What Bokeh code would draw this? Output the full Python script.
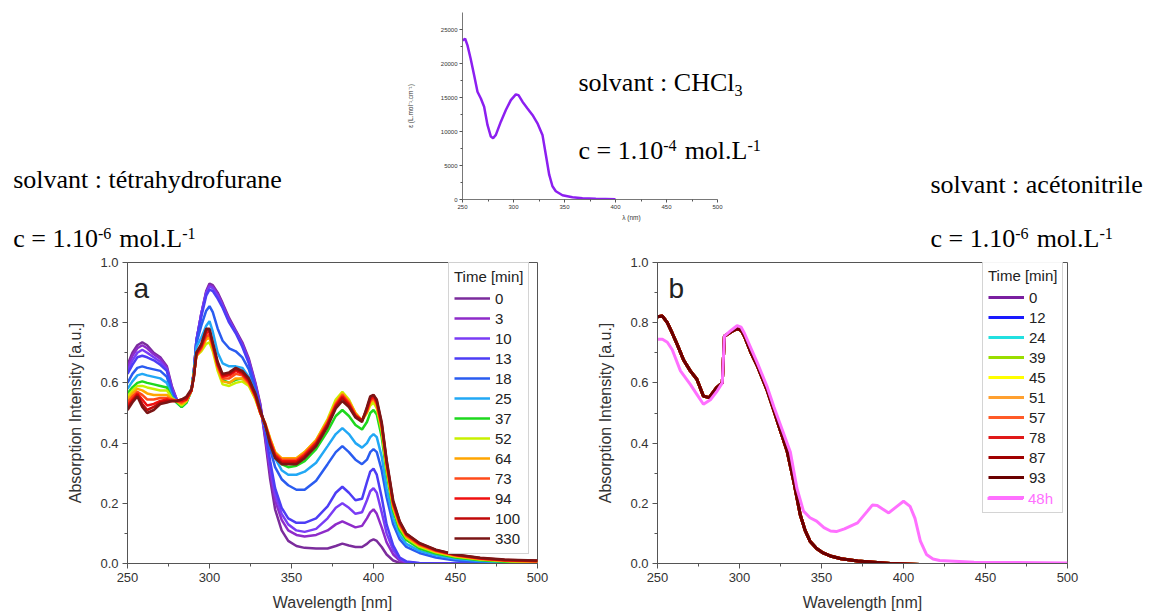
from bokeh.plotting import figure
from bokeh.models import Label, Legend, LegendItem, FixedTicker, PrintfTickFormatter, Range1d
from bokeh.layouts import column, row
from bokeh.embed import file_html
from bokeh.resources import INLINE

# ---------------- data ----------------
# inset: molar absorptivity in CHCl3
WL_CHCL3 = [250, 252.6, 254.9, 258, 261.4, 264.7, 268, 271.2, 274.5, 277.8, 280, 282.7, 287.6, 292.5,
            297.4, 302.3, 304.9, 308.8, 313.7, 318.6, 323.5, 328.4, 331.7, 335, 338.2, 341.5, 348,
            357.8, 367.6, 380.7, 400]
EPS_CHCL3 = [23390, 23640, 22660, 20710, 18270, 15840, 14860, 13650, 10960, 9260, 9015, 9500, 11450,
             13160, 14620, 15450, 15350, 14380, 13400, 12430, 11210, 9500, 6580, 3650, 1950, 1220, 630,
             340, 195, 100, 50]

# panel a: THF, time series
WL_A = [250, 253, 256, 259, 262, 266, 270, 274, 277, 280,
        283, 286, 289, 290.5, 292, 295, 298, 300, 302, 305,
        308, 312, 316, 320, 324, 328, 331, 334, 337, 340,
        344, 348, 353, 358, 365, 372, 377, 381, 385, 389,
        393, 396, 398, 400, 402, 405, 408, 412, 416, 420,
        428, 438, 450, 465, 480, 500]
TIMES_A = ["0", "3", "10", "13", "18", "25", "37", "52", "64", "73", "94", "100", "330"]
COLORS_A = ["#7b2c9c", "#8e2bc9", "#7a3cf5", "#4d3df5", "#2a5cf0", "#22a8f5", "#1ed81e",
            "#c8f000", "#ffa500", "#ff4a1a", "#f01010", "#c00808", "#7a1515"]
A_T0 = [0.66, 0.70, 0.725, 0.735, 0.725, 0.70, 0.685, 0.655, 0.59, 0.545,
        0.535, 0.55, 0.575, 0.64, 0.74, 0.83, 0.905, 0.93, 0.925, 0.90,
        0.865, 0.815, 0.775, 0.735, 0.68, 0.60, 0.53, 0.41, 0.28, 0.18,
        0.11, 0.075, 0.058, 0.052, 0.05, 0.05, 0.058, 0.066, 0.06, 0.055,
        0.055, 0.065, 0.075, 0.08, 0.075, 0.055, 0.03, 0.01, 0.002, 0.0,
        0, 0, 0, 0, 0, 0]
A_T3 = [0.65, 0.69, 0.715, 0.725, 0.715, 0.695, 0.68, 0.65, 0.585, 0.545,
        0.535, 0.55, 0.575, 0.64, 0.74, 0.83, 0.90, 0.925, 0.92, 0.895,
        0.86, 0.81, 0.77, 0.73, 0.675, 0.595, 0.525, 0.42, 0.30, 0.21,
        0.145, 0.11, 0.095, 0.09, 0.095, 0.11, 0.13, 0.14, 0.13, 0.12,
        0.125, 0.15, 0.17, 0.18, 0.165, 0.12, 0.07, 0.03, 0.01, 0.003,
        0, 0, 0, 0, 0, 0]
A_T10 = [0.64, 0.675, 0.70, 0.71, 0.70, 0.685, 0.67, 0.645, 0.58, 0.545,
         0.535, 0.55, 0.575, 0.64, 0.74, 0.83, 0.90, 0.92, 0.915, 0.89,
         0.855, 0.805, 0.77, 0.725, 0.67, 0.59, 0.52, 0.43, 0.32, 0.23,
         0.165, 0.13, 0.11, 0.105, 0.115, 0.15, 0.185, 0.20, 0.185, 0.165,
         0.17, 0.21, 0.24, 0.25, 0.235, 0.17, 0.10, 0.045, 0.015, 0.005,
         0, 0, 0, 0, 0, 0]
A_T13 = [0.63, 0.66, 0.685, 0.69, 0.685, 0.675, 0.66, 0.64, 0.575, 0.54,
         0.53, 0.545, 0.575, 0.64, 0.74, 0.82, 0.89, 0.91, 0.905, 0.88,
         0.85, 0.80, 0.765, 0.72, 0.665, 0.585, 0.515, 0.44, 0.34, 0.25,
         0.185, 0.15, 0.135, 0.135, 0.15, 0.19, 0.235, 0.255, 0.235, 0.21,
         0.215, 0.27, 0.305, 0.315, 0.295, 0.22, 0.13, 0.06, 0.02, 0.007,
         0.002, 0, 0, 0, 0, 0]
A_T18 = [0.60, 0.63, 0.65, 0.655, 0.65, 0.645, 0.64, 0.62, 0.565, 0.535,
         0.525, 0.54, 0.575, 0.64, 0.73, 0.79, 0.84, 0.855, 0.835, 0.78,
         0.74, 0.715, 0.705, 0.685, 0.645, 0.575, 0.51, 0.45, 0.38, 0.32,
         0.28, 0.26, 0.245, 0.245, 0.275, 0.33, 0.37, 0.39, 0.37, 0.345,
         0.33, 0.345, 0.37, 0.38, 0.37, 0.31, 0.22, 0.13, 0.08, 0.055,
         0.035, 0.02, 0.01, 0.005, 0.002, 0.0]
A_T25 = [0.58, 0.605, 0.625, 0.63, 0.625, 0.62, 0.615, 0.60, 0.555, 0.535,
         0.52, 0.535, 0.575, 0.64, 0.72, 0.75, 0.79, 0.805, 0.77, 0.70,
         0.665, 0.655, 0.655, 0.65, 0.62, 0.565, 0.505, 0.455, 0.40, 0.35,
         0.31, 0.295, 0.295, 0.305, 0.335, 0.39, 0.43, 0.45, 0.43, 0.40,
         0.385, 0.40, 0.42, 0.43, 0.42, 0.355, 0.25, 0.15, 0.095, 0.065,
         0.042, 0.027, 0.016, 0.008, 0.004, 0.002]
A_T37 = [0.565, 0.585, 0.60, 0.605, 0.60, 0.595, 0.59, 0.585, 0.55, 0.535,
         0.52, 0.535, 0.575, 0.635, 0.70, 0.72, 0.75, 0.755, 0.72, 0.655,
         0.61, 0.60, 0.61, 0.615, 0.595, 0.55, 0.50, 0.46, 0.41, 0.365,
         0.33, 0.32, 0.325, 0.34, 0.38, 0.44, 0.49, 0.51, 0.49, 0.46,
         0.445, 0.47, 0.50, 0.51, 0.495, 0.42, 0.30, 0.175, 0.11, 0.078,
         0.05, 0.033, 0.02, 0.011, 0.006, 0.003]
A_T52 = [0.555, 0.575, 0.59, 0.59, 0.585, 0.58, 0.575, 0.575, 0.55, 0.54,
         0.525, 0.54, 0.575, 0.63, 0.69, 0.705, 0.73, 0.735, 0.705, 0.64,
         0.595, 0.59, 0.60, 0.605, 0.59, 0.545, 0.50, 0.465, 0.415, 0.37,
         0.345, 0.345, 0.35, 0.37, 0.41, 0.48, 0.545, 0.57, 0.545, 0.50,
         0.475, 0.50, 0.525, 0.535, 0.515, 0.44, 0.315, 0.185, 0.12, 0.085,
         0.056, 0.037, 0.023, 0.013, 0.008, 0.005]
A_T64 = [0.545, 0.565, 0.58, 0.575, 0.565, 0.56, 0.56, 0.56, 0.545, 0.54,
         0.53, 0.54, 0.575, 0.625, 0.69, 0.71, 0.745, 0.75, 0.715, 0.65,
         0.605, 0.60, 0.615, 0.615, 0.595, 0.55, 0.50, 0.465, 0.415, 0.37,
         0.35, 0.35, 0.35, 0.37, 0.41, 0.475, 0.535, 0.565, 0.54, 0.50,
         0.475, 0.505, 0.535, 0.545, 0.525, 0.45, 0.325, 0.19, 0.125, 0.09,
         0.06, 0.04, 0.025, 0.015, 0.009, 0.006]
A_T73 = [0.535, 0.555, 0.57, 0.56, 0.545, 0.545, 0.55, 0.55, 0.545, 0.54,
         0.535, 0.545, 0.575, 0.625, 0.69, 0.715, 0.755, 0.76, 0.72, 0.655,
         0.615, 0.615, 0.63, 0.625, 0.60, 0.555, 0.50, 0.465, 0.41, 0.365,
         0.345, 0.345, 0.345, 0.365, 0.405, 0.47, 0.53, 0.56, 0.535, 0.495,
         0.475, 0.505, 0.54, 0.55, 0.53, 0.455, 0.33, 0.195, 0.13, 0.093,
         0.063, 0.042, 0.027, 0.016, 0.01, 0.007]
A_T94 = [0.525, 0.545, 0.565, 0.545, 0.525, 0.53, 0.54, 0.545, 0.54, 0.54,
         0.54, 0.545, 0.575, 0.625, 0.695, 0.72, 0.765, 0.77, 0.725, 0.66,
         0.62, 0.625, 0.64, 0.63, 0.605, 0.555, 0.50, 0.46, 0.405, 0.36,
         0.34, 0.34, 0.34, 0.36, 0.40, 0.465, 0.525, 0.555, 0.53, 0.49,
         0.475, 0.51, 0.545, 0.555, 0.535, 0.46, 0.335, 0.20, 0.135, 0.096,
         0.065, 0.044, 0.028, 0.017, 0.011, 0.008]
A_T100 = [0.515, 0.54, 0.56, 0.53, 0.51, 0.52, 0.535, 0.54, 0.54, 0.54,
          0.545, 0.55, 0.575, 0.62, 0.70, 0.725, 0.775, 0.775, 0.73, 0.665,
          0.625, 0.63, 0.645, 0.635, 0.61, 0.56, 0.505, 0.46, 0.40, 0.355,
          0.335, 0.335, 0.335, 0.355, 0.395, 0.46, 0.52, 0.55, 0.525, 0.49,
          0.475, 0.515, 0.55, 0.56, 0.54, 0.465, 0.34, 0.205, 0.138, 0.098,
          0.067, 0.045, 0.029, 0.018, 0.012, 0.009]
A_T330 = [0.51, 0.535, 0.555, 0.52, 0.50, 0.51, 0.53, 0.535, 0.54, 0.54,
          0.545, 0.555, 0.58, 0.62, 0.70, 0.73, 0.78, 0.78, 0.735, 0.67,
          0.63, 0.635, 0.65, 0.64, 0.615, 0.565, 0.51, 0.46, 0.395, 0.35,
          0.33, 0.33, 0.33, 0.35, 0.39, 0.455, 0.515, 0.54, 0.52, 0.485,
          0.47, 0.52, 0.555, 0.56, 0.545, 0.47, 0.345, 0.21, 0.14, 0.10,
          0.068, 0.046, 0.03, 0.019, 0.013, 0.01]
SERIES_A = [A_T0, A_T3, A_T10, A_T13, A_T18, A_T25, A_T37, A_T52, A_T64, A_T73, A_T94, A_T100, A_T330]

# panel b: acetonitrile
WL_B = [250, 253, 256, 259, 262, 266, 270, 274, 278, 281.5,
        286, 289.5, 290.8, 295, 298.5, 301, 303, 307, 311, 317,
        321, 325, 329, 333, 337, 340, 343, 347, 351, 356,
        362, 372, 382, 392, 410, 440, 470, 500]
ABS_B_MIN = [0.82, 0.822, 0.80, 0.765, 0.728, 0.675, 0.64, 0.612, 0.556, 0.551,
             0.584, 0.60, 0.755, 0.77, 0.78, 0.775, 0.755, 0.70, 0.655, 0.573,
             0.507, 0.44, 0.374, 0.274, 0.163, 0.11, 0.074, 0.05, 0.035, 0.024,
             0.016, 0.008, 0.004, 0.0, -0.003, -0.004, -0.004, -0.004]
TIMES_B = ["0", "12", "24", "39", "45", "51", "57", "78", "87", "93"]
COLORS_B = ["#7a1fa0", "#1a1aff", "#22e0e0", "#99dd00", "#ffff00", "#ffa030", "#ff5a28",
            "#e01818", "#a00000", "#6a0000"]
WL_B_48H = [250, 253, 256, 259, 264, 270, 274, 278, 282.5, 286,
            289.5, 290.8, 295, 298.5, 301, 303, 307, 311, 317, 321,
            326, 331, 335, 339, 343, 347, 351.5, 355.5, 359, 364,
            372, 378, 381, 384, 387, 391, 396, 400, 404, 407,
            410.3, 414, 418, 422, 443, 470, 500]
ABS_B_48H = [0.745, 0.745, 0.735, 0.71, 0.64, 0.595, 0.562, 0.529, 0.545, 0.57,
             0.60, 0.755, 0.775, 0.79, 0.785, 0.765, 0.715, 0.665, 0.585, 0.52,
             0.445, 0.37, 0.25, 0.174, 0.152, 0.141, 0.119, 0.108, 0.106, 0.115,
             0.135, 0.174, 0.194, 0.193, 0.182, 0.168, 0.19, 0.207, 0.19, 0.15,
             0.074, 0.03, 0.015, 0.01, 0.004, 0.003, 0.002]
LABEL_48H = "48h"
COLOR_48H = "#ff70ff"

X_TICKS = [250, 300, 350, 400, 450, 500]
X_MINOR = [275, 325, 375, 425, 475]
Y_TICKS = [0, 0.2, 0.4, 0.6, 0.8, 1.0]
Y_MINOR = [0.1, 0.3, 0.5, 0.7, 0.9]
EPS_TICKS = [0, 5000, 10000, 15000, 20000, 25000]
EPS_MINOR = [2500, 7500, 12500, 17500, 22500]

SERIF = "Liberation Serif"
SANS = "Liberation Sans"

# Times metrics (1/1000 em) used to chain text pieces with super/subscripts
TW = {' ': 250, 'c': 444, '=': 564, '1': 500, '.': 250, '0': 500, '-': 333, '6': 500, '4': 500,
      'm': 778, 'o': 500, 'l': 278, 'L': 611, 's': 389, 'v': 500, 'a': 444, 'n': 500, 't': 278,
      ':': 278, 'C': 667, 'H': 722, '3': 500}
FS = 26
MID_K = 0.35   # distance middle -> alphabetic baseline, in em


def tw(s, size):
    return sum(TW.get(ch, 500) for ch in s) * size / 1000.0


def rich(p, x, y, parts, size=FS):
    """(x, y) is the position of the baseline start of the first piece."""
    off = 0.0
    for txt, kind, extra in parts:
        if kind == "n":
            fs, dy = size, 0.0
        elif kind == "sup":
            fs, dy = size * 0.62, size * 0.33
        else:
            fs, dy = size * 0.62, -size * 0.15
        p.add_layout(Label(x=x, y=y, x_offset=off, y_offset=dy + MID_K * fs, text=txt,
                           text_font=SERIF, text_font_size=f"{fs:.1f}px", text_baseline="middle",
                           text_color="black"))
        off += tw(txt, fs) + extra


def conc(p, x, y, exp):
    rich(p, x, y, [("c = 1.10", "n", 0), ("-" + exp, "sup", 8), ("mol.L", "n", 0), ("-1", "sup", 0)])


def style(p, tick_size, label_size, tick_out, minor_out, color, standoff):
    for ax in (p.xaxis, p.yaxis):
        ax.axis_line_color = color
        ax.major_tick_line_color = color
        ax.minor_tick_line_color = color
        ax.major_tick_in = 0
        ax.minor_tick_in = 0
        ax.major_tick_out = tick_out
        ax.minor_tick_out = minor_out
        ax.major_label_text_font = SANS
        ax.major_label_text_font_size = tick_size
        ax.major_label_text_color = "#333333"
        ax.axis_label_text_font = SANS
        ax.axis_label_text_font_size = label_size
        ax.axis_label_text_font_style = "normal"
        ax.axis_label_text_color = "#333333"
        ax.major_label_standoff = standoff
    p.grid.visible = False


def text_fig(w, h, top=0, bottom=0):
    fh = h - top - bottom
    f = figure(width=w, height=h, x_range=Range1d(0, w), y_range=Range1d(0, fh),
               x_axis_type=None, y_axis_type=None, output_backend="svg", toolbar_location=None,
               min_border_left=0, min_border_right=0, min_border_top=top, min_border_bottom=bottom)
    f.outline_line_color = None
    return f


# page layout (pixels from the top-left of the page)
TOP_H = 223       # top row: 0..223
MID_H = 31        # concentration row: 223..254
INSET_TOP, INSET_BOTTOM = 12, 200
CONC_BASE = 247.5

# ---------------- top row ----------------
left_txt = text_fig(400, TOP_H, INSET_TOP, TOP_H - INSET_BOTTOM)
rich(left_txt, 12.7, INSET_BOTTOM - 189, [("solvant : tétrahydrofurane", "n", 0)])

inset = figure(width=400, height=TOP_H, x_range=Range1d(250, 250 + 338 / 1.02), y_range=Range1d(0, 27500),
               output_backend="svg", toolbar_location=None,
               min_border_left=62, min_border_right=0, min_border_top=INSET_TOP,
               min_border_bottom=TOP_H - INSET_BOTTOM)
inset.outline_line_color = None
inset.line(WL_CHCL3, EPS_CHCL3, line_color="#8c1ff0", line_width=2.5)
inset.xaxis.ticker = FixedTicker(ticks=X_TICKS, minor_ticks=X_MINOR)
inset.yaxis.ticker = FixedTicker(ticks=EPS_TICKS, minor_ticks=EPS_MINOR)
inset.xaxis.bounds = (250, 500)
inset.xaxis.axis_label = "λ (nm)"
inset.yaxis.axis_label = "ε (L.mol⁻¹.cm⁻¹)"
style(inset, "6px", "6.5px", 3, 2, "#555555", 2)
inset.xaxis.axis_label_standoff = 2
inset.yaxis.axis_label_standoff = 24
inset.xaxis.axis_line_width = 0.8
inset.yaxis.axis_line_width = 0.8


def inset_xy(px, py):
    return 250 + (px - 462) / 1.02, (INSET_BOTTOM - py) * 27500 / (INSET_BOTTOM - INSET_TOP)


x0, y0 = inset_xy(578, 91.7)
rich(inset, x0, y0, [("solvant : CHCl", "n", 0), ("3", "sub", 0)])
x0, y0 = inset_xy(578, 160)
conc(inset, x0, y0, "4")

right_txt = text_fig(347, TOP_H, INSET_TOP, TOP_H - INSET_BOTTOM)
rich(right_txt, 930 - 800, INSET_BOTTOM - 194, [("solvant : acétonitrile", "n", 0)])

# ---------------- concentration row ----------------
mid = text_fig(1147, MID_H)
conc(mid, 12.7, TOP_H + MID_H - CONC_BASE, "6")
conc(mid, 930, TOP_H + MID_H - CONC_BASE, "6")

# ---------------- panel a ----------------
BOT_H = 359
fa = figure(width=590, height=BOT_H, x_range=Range1d(250, 500), y_range=Range1d(0, 1.0),
            output_backend="svg", toolbar_location=None,
            min_border_left=127, min_border_right=53, min_border_top=8, min_border_bottom=BOT_H - 310)
fa.outline_line_color = "#555555"
rends_a = []
for ys, col in zip(SERIES_A, COLORS_A):
    rends_a.append(fa.line(WL_A, ys, line_color=col, line_width=2.5))

# ---------------- panel b ----------------
fb = figure(width=557, height=BOT_H, x_range=Range1d(250, 500), y_range=Range1d(0, 1.0),
            output_backend="svg", toolbar_location=None,
            min_border_left=67, min_border_right=80, min_border_top=8, min_border_bottom=BOT_H - 310)
fb.outline_line_color = "#555555"
rends_b = []
for col in COLORS_B:
    rends_b.append(fb.line(WL_B, ABS_B_MIN, line_color=col, line_width=3))
r48 = fb.line(WL_B_48H, ABS_B_48H, line_color=COLOR_48H, line_width=3)

for p in (fa, fb):
    p.xaxis.ticker = FixedTicker(ticks=X_TICKS, minor_ticks=X_MINOR)
    p.yaxis.ticker = FixedTicker(ticks=Y_TICKS, minor_ticks=Y_MINOR)
    p.yaxis.formatter = PrintfTickFormatter(format="%.1f")
    p.xaxis.axis_label = "Wavelength [nm]"
    p.yaxis.axis_label = "Absorption Intensity [a.u.]"
    style(p, "13px", "16px", 5, 3, "#555555", 4)
    p.xaxis.axis_label_standoff = 9
    p.yaxis.axis_label_standoff = 13


def leg_kwargs():
    return dict(label_text_font=SANS, label_text_font_size="15px", label_text_color="#222222",
                glyph_width=36, glyph_height=20, label_height=20, label_standoff=5,
                spacing=0, padding=5, margin=0)


leg_a = Legend(items=[LegendItem(label=t, renderers=[r]) for t, r in zip(TIMES_A, rends_a)],
               location=(321, 9), title="Time [min]", title_text_font=SANS,
               title_text_font_size="15px", title_text_font_style="normal",
               title_text_color="#222222", title_standoff=3,
               border_line_color="#aaaaaa", background_fill_color="white", **leg_kwargs())
fa.add_layout(leg_a, "center")

items_b = [LegendItem(label=t, renderers=[r]) for t, r in zip(TIMES_B, rends_b)]
items_b.append(LegendItem(label=" ", renderers=[r48]))
leg_b = Legend(items=items_b, location=(325, 50), title="Time [min]", title_text_font=SANS,
               title_text_font_size="15px", title_text_font_style="normal",
               title_text_color="#222222", title_standoff=3,
               border_line_color="#aaaaaa", background_fill_color="white", **leg_kwargs())
fb.add_layout(leg_b, "center")
kw = leg_kwargs()
kw["label_text_color"] = COLOR_48H
leg_b2 = Legend(items=[LegendItem(label=LABEL_48H, renderers=[r48])], location=(325, 50),
                border_line_alpha=0, background_fill_alpha=0, **kw)
fb.add_layout(leg_b2, "center")

# panel letters
fa.add_layout(Label(x=253.7, y=0.914, text="a", text_font=SANS, text_font_size="28px",
                    text_color="#222222", text_baseline="middle"))
fb.add_layout(Label(x=256.7, y=0.914, text="b", text_font=SANS, text_font_size="28px",
                    text_color="#222222", text_baseline="middle"))

layout = column(row(left_txt, inset, right_txt), mid, row(fa, fb))
open("out.html", "w").write(file_html(layout, INLINE))
